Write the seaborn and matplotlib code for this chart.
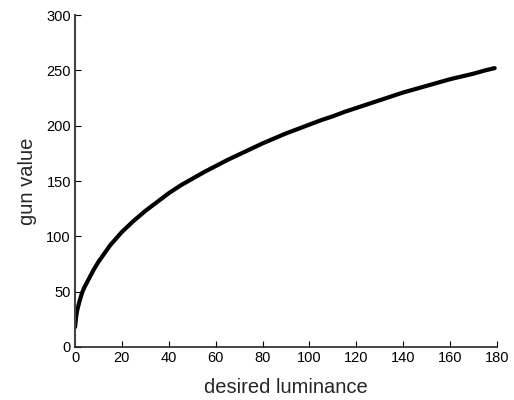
import numpy as np
import pandas as pd
import matplotlib
matplotlib.use('Agg')
import matplotlib.pyplot as plt
import seaborn as sns

# values
luminance = [0, 0.25, 0.5, 1, 1.5, 2, 3, 4, 5, 6, 7, 8, 10, 12, 15, 17.5, 20,
             22.5, 25, 27.5, 30, 35, 40, 45, 50, 55, 60, 65, 70, 75, 80, 85,
             90, 95, 100, 105, 110, 115, 120, 125, 130, 135, 140, 145, 150,
             155, 160, 165, 170, 175, 179]
gun_value = [18, 23, 28, 34, 38, 42, 49, 54, 58, 62, 66, 70, 77, 83, 92, 98, 104,
             109, 114, 118.5, 123, 131, 139, 146, 152, 158, 163.5, 169, 174, 179, 184, 188.5,
             193, 197, 201, 205, 208.5, 212.5, 216, 219.5, 223, 226.5, 230, 233, 236,
             239, 242, 244.5, 247, 250, 252]
x_ticks = [0, 20, 40, 60, 80, 100, 120, 140, 160, 180]
y_ticks = [0, 50, 100, 150, 200, 250, 300]

sns.set_style('ticks')
plt.rcParams['font.family'] = ['Liberation Sans', 'DejaVu Sans']
plt.rcParams['xtick.direction'] = 'in'
plt.rcParams['ytick.direction'] = 'in'

df = pd.DataFrame({'desired luminance': luminance, 'gun value': gun_value})

fig = plt.figure(figsize=(5.14, 4.0), dpi=100)
ax = fig.add_axes([0.146, 0.1325, 0.821, 0.83])
sns.lineplot(data=df, x='desired luminance', y='gun value', color='black',
             linewidth=3.0, ax=ax, solid_capstyle='round', solid_joinstyle='round')

ax.set_xlim(0, 180)
ax.set_ylim(0, 300)
ax.set_xticks(x_ticks)
ax.set_yticks(y_ticks)
ax.tick_params(labelsize=10.5, length=4, width=0.8, colors='black', pad=3)
ax.set_xlabel('desired luminance', fontsize=14.5, labelpad=9)
ax.set_ylabel('gun value', fontsize=14.5, labelpad=7)
sns.despine(ax=ax)
ax.spines['left'].set_color('#444444')
ax.spines['left'].set_linewidth(1.5)
ax.spines['bottom'].set_linewidth(1.2)

fig.savefig('out.png', dpi=100)
